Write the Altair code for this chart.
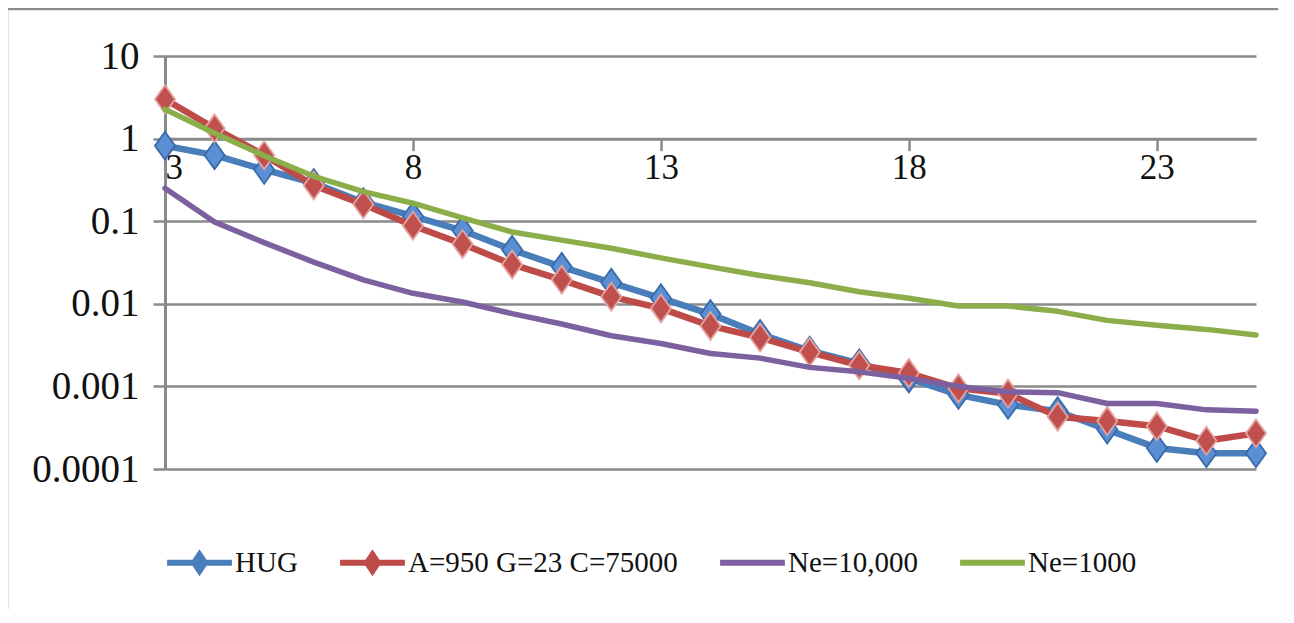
import altair as alt
import pandas as pd

x_vals = list(range(3, 26))

series_names = ["HUG", "A=950 G=23 C=75000", "Ne=10,000", "Ne=1000"]

hug = [0.82, 0.63, 0.42, 0.29, 0.17, 0.115, 0.077, 0.045, 0.028, 0.018, 0.0117,
       0.0075, 0.0043, 0.0027, 0.0019, 0.00125, 0.00079, 0.0006, 0.0005, 0.0003,
       0.00018, 0.000155, 0.000155]
model = [3.0, 1.33, 0.63, 0.27, 0.16, 0.088, 0.053, 0.03, 0.0195, 0.0122, 0.0088,
         0.0054, 0.0039, 0.0026, 0.0018, 0.00145, 0.00095, 0.00082, 0.00043, 0.00038,
         0.00033, 0.00022, 0.00027]
ne10000 = [0.25, 0.098, 0.055, 0.032, 0.0195, 0.0134, 0.0105, 0.0076, 0.0057, 0.0041,
           0.0033, 0.0025, 0.0022, 0.0017, 0.0015, 0.00125, 0.001, 0.00086, 0.00084,
           0.00062, 0.00062, 0.00052, 0.0005]
ne1000 = [2.27, 1.16, 0.62, 0.35, 0.228, 0.165, 0.11, 0.074, 0.059, 0.047, 0.036,
          0.028, 0.022, 0.018, 0.014, 0.0117, 0.0094, 0.0094, 0.0081, 0.0063, 0.0055,
          0.0049, 0.0042]

y_ticks = [10, 1, 0.1, 0.01, 0.001, 0.0001]
x_ticks = [3, 8, 13, 18, 23]

line_colors = ["#4A7EBB", "#BE4B48", "#7D60A0", "#8BAE4A"]

rows = []
for name, vals in zip(series_names, [hug, model, ne10000, ne1000]):
    for xv, yv in zip(x_vals, vals):
        rows.append({"x": xv, "value": yv, "series": name})
df = pd.DataFrame(rows)

FONT = "Liberation Serif"
GRID = "#8a8a8a"

W, H = 1091, 413
color_scale = alt.Scale(domain=series_names, range=line_colors)

xenc = alt.X("x:Q", scale=alt.Scale(domain=[3, 25], nice=False, zero=False),
             axis=alt.Axis(values=x_ticks, format="d", title=None, grid=False,
                           offset=-(H - H / 5.0), tickSize=12, tickColor=GRID,
                           tickWidth=2.5, domainColor=GRID, domainWidth=2.5,
                           labelPadding=0, labelFontSize=35, labelFont=FONT,
                           labelColor="#111111"))
yenc = alt.Y("value:Q", scale=alt.Scale(type="log", domain=[0.0001, 10], nice=False),
             axis=alt.Axis(values=y_ticks, format="~g", title=None, grid=True,
                           gridColor=GRID, gridWidth=2.5, tickSize=12,
                           tickColor=GRID, tickWidth=2.5, domainColor=GRID,
                           domainWidth=3, labelPadding=14, labelFontSize=39,
                           labelFont=FONT, labelColor="#111111"))

base = alt.Chart(df)


def line_layer(i, width):
    return base.transform_filter(alt.datum.series == series_names[i]).mark_line(
        strokeWidth=width, strokeJoin="round", strokeCap="round",
        color=line_colors[i]
    ).encode(x=xenc, y=yenc)


DIAMOND = "M0,-1L0.72,0L0,1L-0.72,0Z"


def point_layer(i, fill, stroke):
    return base.transform_filter(alt.datum.series == series_names[i]).mark_point(
        shape=DIAMOND, size=780, filled=True, opacity=1, fill=fill,
        stroke=stroke, strokeWidth=1.8
    ).encode(x=xenc, y=yenc)


LEG_MARK = "M-1,-0.09H1V0.09H-1Z M0,-0.42L0.28,0L0,0.42L-0.28,0Z"
LEG_LINE = "M-1,-0.09H1V0.09H-1Z"

leg = alt.Legend(orient="none", legendX=2, legendY=474,
                 direction="horizontal", title=None,
                 symbolSize=4200, labelFontSize=29, labelLimit=600,
                 labelFont=FONT, labelColor="#111111",
                 columnPadding=42, labelOffset=3,
                 padding=0, symbolStrokeWidth=0)

legend_layer = base.transform_filter(alt.datum.x < 0).mark_point(
    filled=True, opacity=1
).encode(
    x=xenc, y=yenc,
    color=alt.Color("series:N", scale=color_scale, legend=leg),
    shape=alt.Shape("series:N",
                    scale=alt.Scale(domain=series_names,
                                    range=[LEG_MARK, LEG_MARK, LEG_LINE, LEG_LINE]),
                    legend=leg),
)

frame_data = pd.DataFrame({"k": [0]})
top_border = alt.Chart(frame_data).mark_rule(color=GRID, strokeWidth=2.5).encode(
    x=alt.value(-158), x2=alt.value(W + 22), y=alt.value(-47))
left_border = alt.Chart(frame_data).mark_rule(color=GRID, strokeWidth=2.5).encode(
    x=alt.value(-158), y=alt.value(-47), y2=alt.value(H + 140))

chart = alt.layer(
    top_border,
    left_border,
    line_layer(0, 6.5),
    point_layer(0, "#5B8FD3", "#3A6AA8"),
    line_layer(1, 6.5),
    point_layer(1, "#C0504D", "#E3A3A1"),
    line_layer(2, 5.5),
    line_layer(3, 5.5),
    legend_layer,
).properties(
    width=W, height=H,
    autosize=alt.AutoSizeParams(type="none"),
    padding={"left": 157, "top": 48, "right": 22, "bottom": 140},
    background="white",
).configure_view(stroke=None)

chart.save("out.html", embed_options={"renderer": "svg", "actions": False})
